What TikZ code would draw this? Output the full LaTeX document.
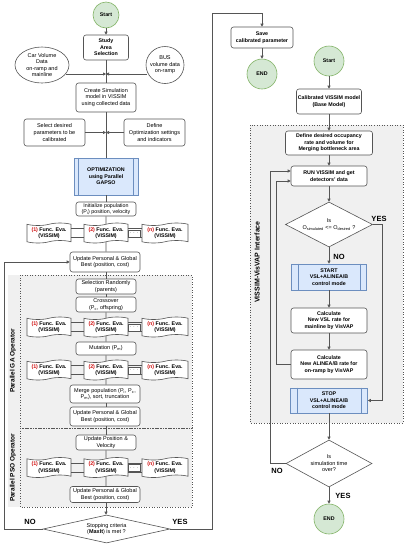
\documentclass[tikz,border=0pt]{standalone}
\usepackage{fontspec}
\setmainfont{Liberation Sans}
\usetikzlibrary{shapes.geometric,shapes.symbols,arrows.meta,backgrounds}
\definecolor{gfill}{HTML}{D5E8D4}
\definecolor{gline}{HTML}{82B366}
\definecolor{bfill}{HTML}{DAE8FC}
\definecolor{bline}{HTML}{6C8EBF}
\definecolor{regfill}{HTML}{F0F0F0}
\definecolor{ln}{HTML}{555555}
\definecolor{rd}{HTML}{D01010}
\newcommand\fs{\fontsize{5.5}{6.6}\selectfont}
\newcommand\fsb{\fontsize{5.3}{6.6}\selectfont\bfseries}
\newcommand\fe[1]{{\color{rd}(#1)} Func. Eva.\\(VISSIM)}
\tikzset{
  box/.style={draw=ln, rounded corners=2.5pt, fill=white, align=center, font=\fs, inner sep=0.5pt, line width=0.6pt},
  bbox/.style={box, font=\fsb},
  proc/.style={draw=bline, fill=bfill, align=center, font=\fsb, inner sep=0.5pt, line width=0.6pt},
  term/.style={circle, draw=gline, fill=gfill, font=\fsb, minimum size=#1, inner sep=0pt, line width=0.6pt},
  func/.style={tape, draw=ln, fill=white, align=center, font=\fsb, minimum width=44pt, minimum height=20pt, inner sep=0pt, tape bend height=2.5pt, line width=0.6pt},
  dots/.style={draw=ln, fill=white, font=\fsb, minimum width=12pt, minimum height=7pt, inner sep=0pt, line width=0.6pt},
  dec/.style={diamond, draw=ln, fill=white, inner sep=0pt, line width=0.6pt},
  ell/.style={ellipse, draw=ln, fill=white, inner sep=0pt, line width=0.6pt},
  lnk/.style={draw=ln, line width=0.6pt},
  arr/.style={lnk, -{Triangle[length=3pt,width=3pt]}},
  yn/.style={font=\fontsize{7.5}{8}\selectfont\bfseries},
  reglab/.style={rotate=90, font=\fontsize{6.5}{7}\selectfont\bfseries},
}
\begin{document}
\begin{tikzpicture}[x=1pt,y=-1pt]
\useasboundingbox (0,0) rectangle (410,550);
% regions
\fill[regfill] (8,275) rectangle (192,507);
\draw[ln, dotted, line width=0.6pt] (20,275) rectangle (192,428);
\draw[ln, dotted, line width=0.6pt] (20,428) rectangle (192,507);
\node[reglab] (galab) at (13,361) {Parallel GA Operator};
\node[reglab] (psolab) at (13,468) {Parallel PSO Operator};
\fill[regfill] (250,125) rectangle (403,423);
\draw[ln, dotted, line width=0.6pt] (250,125) rectangle (403,423);
\node[reglab, font=\fontsize{7}{8}\selectfont\bfseries] (vlab) at (257,262) {VISSIM-VisVAP Interface};

% ---------- left column ----------
\node[term=26pt] (start) at (106,15) {Start};
\node[bbox, minimum width=45pt, minimum height=25pt] (study) at (106,47.5) {Study\\Area\\Selection};
\node[ell, minimum width=54pt, minimum height=36pt, label={[font=\fs, align=center]center:Car Volume\\Data\\on-ramp and\\mainline}] (car) at (42,65) {};
\node[ell, minimum width=38pt, minimum height=37pt, label={[font=\fs, align=center]center:BUS\\volume data\\on-ramp}] (bus) at (165,65) {};
\coordinate (j1) at (106,74);
\node[box, minimum width=60pt, minimum height=29pt] (create) at (106,97.5) {Create Simulation\\model in VISSIM\\using collected data};
\node[box, minimum width=61pt, minimum height=27pt] (select) at (54.5,132.5) {Select desired\\parameters to be\\calibrated};
\node[box, minimum width=61pt, minimum height=27pt] (define) at (154.5,132.5) {Define\\Optimization settings\\and indicators};
\node[proc, minimum width=64pt, minimum height=37pt] (opt) at (106,176.5) {OPTIMIZATION\\using Parallel\\GAPSO};
\draw[bline, line width=0.6pt] ([xshift=5pt]opt.north west) -- ([xshift=5pt]opt.south west)
  ([xshift=-5pt]opt.north east) -- ([xshift=-5pt]opt.south east);
\node[box, minimum width=60pt, minimum height=14pt, inner sep=0pt, font=\fontsize{5.3}{6}\selectfont] (init) at (106,209) {Initialize population\\(P\textsubscript{i}) position, velocity};

% func rows
\foreach \r/\y in {a/233, b/327, c/370, d/467.5}{
  \node[func] (f1\r) at (49,\y) {\fe{1}};
  \node[func] (f2\r) at (106,\y) {\fe{2}};
  \node[func, minimum width=46pt] (fn\r) at (165,\y) {\fe{n}};
  \draw[lnk] ([yshift=4.5pt]f1\r.east) -- ([yshift=4.5pt]f1\r.east -| f2\r.west)
             ([yshift=-4.5pt]f1\r.east) -- ([yshift=-4.5pt]f1\r.east -| f2\r.west)
             ([yshift=4.5pt]f2\r.east) -- ([yshift=4.5pt]f2\r.east -| fn\r.west)
             ([yshift=-4.5pt]f2\r.east) -- ([yshift=-4.5pt]f2\r.east -| fn\r.west);
  \node[dots] (dt\r) at (134,\y+0.5) {$\cdots$};
}

\node[box, minimum width=70pt, minimum height=20pt] (upd1) at (105,262) {Update Personal \& Global\\Best (position, cost)};
\node[box, minimum width=60pt, minimum height=15pt] (selr) at (106,286.5) {Selection Randomly\\(parents)};
\node[box, minimum width=60pt, minimum height=15pt] (cross) at (106,304.5) {Crossover\\(P\textsubscript{c}, offspring)};
\node[box, minimum width=60pt, minimum height=13pt] (mut) at (106,348.5) {Mutation (P\textsubscript{m})};
\node[box, minimum width=70pt, minimum height=18pt] (merge) at (105,394) {Merge population (P\textsubscript{i}, P\textsubscript{c},\\P\textsubscript{m}), sort, truncation};
\node[box, minimum width=70pt, minimum height=19pt] (upd2) at (105,416.5) {Update Personal \& Global\\Best (position, cost)};
\node[box, minimum width=60pt, minimum height=15pt] (updpos) at (106,442.5) {Update Position \&\\Velocity};
\node[box, minimum width=70pt, minimum height=16pt] (upd3) at (105,494.5) {Update Personal \& Global\\Best (position, cost)};
\node[dec, minimum width=127pt, minimum height=28pt, label={[font=\fs, align=center]center:Stopping criteria\\(\textbf{MaxIt}) is met ?}] (stopc) at (106.5,529) {};
\node[yn] (noL) at (30,522) {NO};
\node[yn] (yesL) at (180,522) {YES};

% left connectors
\draw[arr] (start) -- (study);
\draw[lnk] (study) -- (create);
\draw[arr] (car.-20 |- j1) -- (j1);
\draw[arr] (bus.200 |- j1) -- (j1);
\draw[lnk] (create) -- (opt);
\draw[arr] (select) -- (select -| opt);
\draw[arr] (define) -- (define -| opt);
\draw[lnk] (opt) -- (init);
\draw[lnk] (init) -- (f2a);
\draw[lnk] (f2a) -- (upd1.north -| f2a);
\draw[lnk] (upd1.south -| selr) -- (selr);
\draw[lnk] (selr) -- (cross);
\draw[lnk] (cross) -- (f2b);
\draw[lnk] (f2b) -- (mut);
\draw[lnk] (mut) -- (f2c);
\draw[lnk] (f2c) -- (merge.north -| f2c);
\draw[lnk] (merge.south -| f2c) -- (upd2.north -| f2c);
\draw[lnk] (upd2.south -| f2c) -- (updpos);
\draw[lnk] (updpos) -- (f2d);
\draw[lnk] (f2d) -- (upd3.north -| f2d);
\draw[arr] (upd3.south -| f2d) -- (stopc.north -| f2d);
\coordinate (nl) at (4,529);
\draw[arr] (stopc.west) -- (nl) |- (upd1.west);
\coordinate (yr1) at (212,529);
\coordinate (yr2) at (212,13);

% ---------- right column ----------
\node[bbox, minimum width=62pt, minimum height=21pt] (save) at (262,37.5) {Save\\calibrated parameter};
\node[term=30pt] (end1) at (262,74) {END};
\node[term=30pt] (start2) at (329,61) {Start};
\node[bbox, minimum width=65pt, minimum height=25pt] (calib) at (329,101.5) {Calibrated VISSIM model\\(Base Model)};
\node[bbox, minimum width=87pt, minimum height=24pt] (def2) at (329,143) {Define desired occupancy\\rate and volume for\\Merging bottleneck area};
\node[bbox, minimum width=76pt, minimum height=20pt] (run) at (329,176) {RUN VISSIM and get\\detectors' data};
\node[dec, minimum width=87pt, minimum height=45pt, label={[font=\fs, align=center]center:Is\\O\textsubscript{simulated} <= O\textsubscript{desired} ?}] (dia1) at (329,224.5) {};
\node[proc, minimum width=75pt, minimum height=26pt] (startc) at (329,277) {START\\VSL+ALINEA/B\\control mode};
\draw[bline, line width=0.6pt] ([xshift=7pt]startc.north west) -- ([xshift=7pt]startc.south west)
  ([xshift=-7pt]startc.north east) -- ([xshift=-7pt]startc.south east);
\node[bbox, minimum width=76pt, minimum height=25pt] (calc1) at (329,320.5) {Calculate\\New VSL rate for\\mainline by VisVAP};
\node[bbox, minimum width=76pt, minimum height=29pt] (calc2) at (329,364.5) {Calculate\\New ALINEA/B rate for\\on-ramp by VisVAP};
\node[proc, minimum width=77pt, minimum height=25pt] (stopm) at (329,400.5) {STOP\\VSL+ALINEA/B\\control mode};
\draw[bline, line width=0.6pt] ([xshift=7pt]stopm.north west) -- ([xshift=7pt]stopm.south west)
  ([xshift=-7pt]stopm.north east) -- ([xshift=-7pt]stopm.south east);
\node[dec, minimum width=86pt, minimum height=47pt, label={[font=\fs, align=center]center:Is\\simulation time\\over?}] (dia2) at (329,463.5) {};
\node[term=30pt] (end2) at (329,519) {END};
\node[yn] (yes1) at (379,219) {YES};
\node[yn] (no1) at (339,257) {NO};
\node[yn] (no2) at (277,471) {NO};
\node[yn] (yes2) at (343,496) {YES};

% right connectors
\draw[arr] (stopc.east) -- (yr1) -- (yr2) -| (save.north);
\draw[arr] (save) -- (end1);
\draw[arr] (start2) -- (calib);
\draw[arr] (calib) -- (def2);
\draw[arr] (def2) -- (run);
\draw[arr] (run) -- (dia1);
\draw[arr] (dia1) -- (startc);
\draw[arr] (startc) -- (calc1);
\draw[arr] (calc1) -- (calc2);
\draw[arr] (stopm) -- (dia2);
\draw[arr] (dia2) -- (end2);
\coordinate (lA) at (276,181);
\coordinate (lB) at (270,171);
\coordinate (lC) at (382,400.5);
\draw[arr] (calc2.west) -| (lA) -- (lA -| run.west);
\draw[arr] (dia2.west) -| (lB) -- (lB -| run.west);
\draw[arr] (dia1.east) -| (lC) -- (lC -| stopm.east);
\end{tikzpicture}
\end{document}
